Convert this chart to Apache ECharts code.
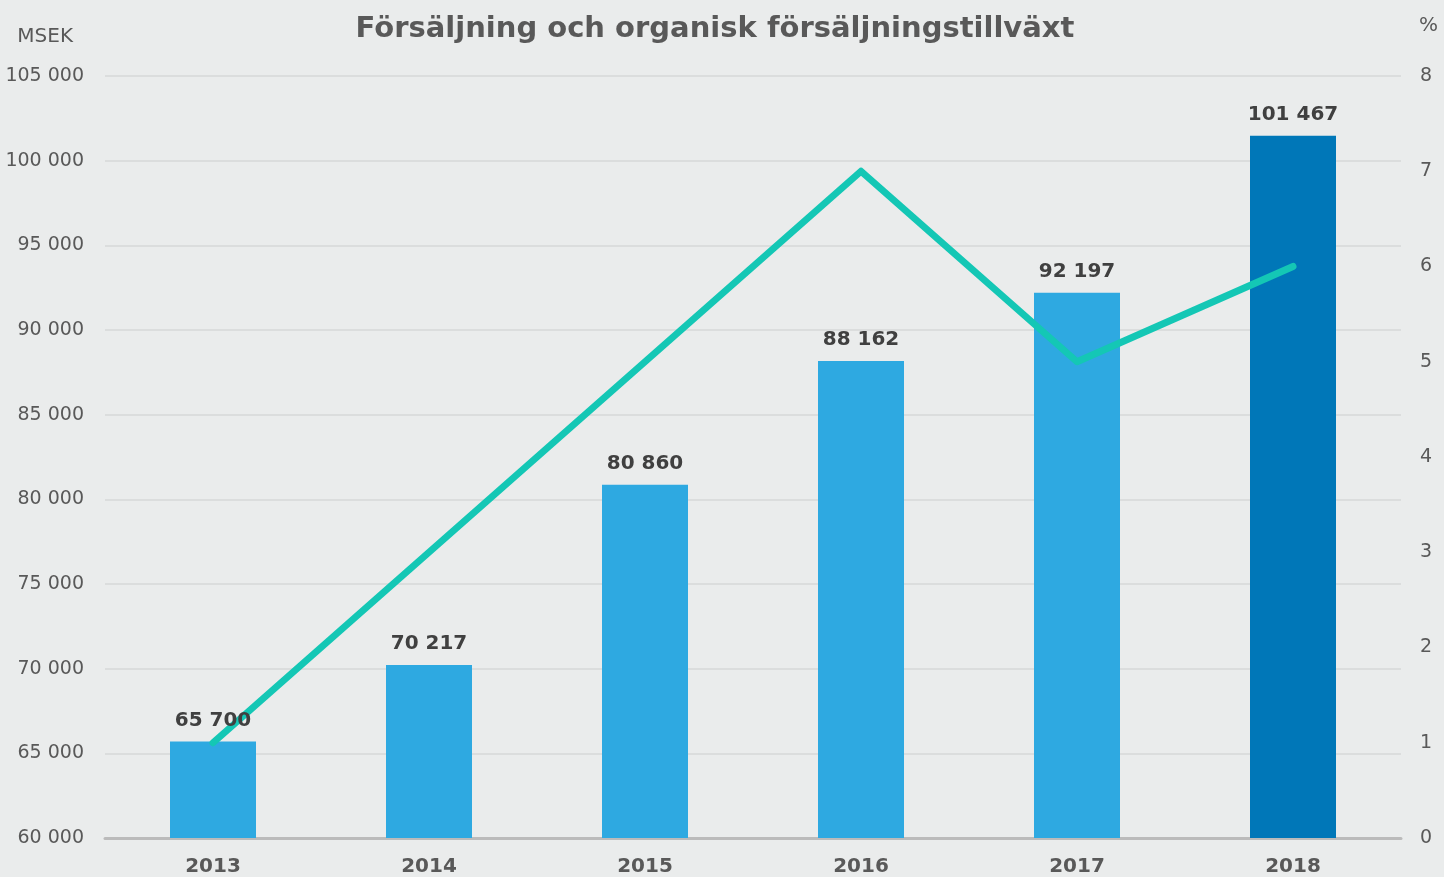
<!DOCTYPE html>
<html>
<head>
<meta charset="utf-8">
<script src="https://cdn.jsdelivr.net/npm/echarts@6/dist/echarts.min.js"></script>
<style>
  html, body { margin: 0; padding: 0; background: #eaecec; }
  #main { width: 1444px; height: 877px; }
</style>
</head>
<body>
<div id="main"></div>
<script>
(function () {
  'use strict';
  var years = ['2013', '2014', '2015', '2016', '2017', '2018'];
  var sales = [65700, 70217, 80860, 88162, 92197, 101467];
  var growth = [1, 3, 5, 7, 5, 6];

  function fmt(v) {
    return String(v).replace(/\B(?=(\d{3})+(?!\d))/g, ' ');
  }

  var myChart = echarts.init(document.getElementById('main'));
  var font = 'DejaVu Sans, Verdana, sans-serif';
  var option = {
    backgroundColor: '#eaecec',
    textStyle: { fontFamily: font },
    title: {
      text: 'Försäljning och organisk försäljningstillväxt',
      left: 710,
      textAlign: 'center',
      top: 10,
      textStyle: { fontFamily: font, fontSize: 29, fontWeight: 'bold', color: '#595959' }
    },
    grid: { left: 105, right: 43, top: 76, bottom: 39 },
    xAxis: {
      type: 'category',
      data: years,
      axisTick: { show: false },
      axisLine: { lineStyle: { color: '#bbbbbb', width: 3 } },
      axisLabel: { fontFamily: font, fontSize: 20, fontWeight: 'bold', color: '#595959', margin: 19 }
    },
    yAxis: [{
      type: 'value',
      name: 'MSEK',
      nameLocation: 'end',
      nameGap: 29,
      nameTextStyle: { fontFamily: font, fontSize: 20, color: '#595959', align: 'right', padding: [0, 32, 0, 0] },
      min: 60000,
      max: 105000,
      interval: 5000,
      axisLine: { show: false },
      axisTick: { show: false },
      splitLine: { lineStyle: { color: '#d6d9d9', width: 1.5 } },
      axisLabel: { fontFamily: font, fontSize: 19, color: '#595959', margin: 21, formatter: fmt }
    }, {
      type: 'value',
      name: '%',
      nameLocation: 'end',
      nameGap: 40,
      nameTextStyle: { fontFamily: font, fontSize: 20, color: '#595959', align: 'left', padding: [0, 0, 0, 18] },
      min: 0,
      max: 8,
      interval: 1,
      axisLine: { show: false },
      axisTick: { show: false },
      splitLine: { show: false },
      axisLabel: { fontFamily: font, fontSize: 19, color: '#595959', margin: 19 }
    }],
    series: [{
      name: 'Försäljning',
      type: 'bar',
      data: sales.map(function (v, i) {
        return i === sales.length - 1 ? { value: v, itemStyle: { color: '#0077b8' } } : v;
      }),
      barWidth: 86,
      itemStyle: { color: '#2ea9e1' },
      z: 2
    }, {
      name: 'Organisk tillväxt',
      type: 'line',
      yAxisIndex: 1,
      data: growth,
      showSymbol: false,
      symbol: 'none',
      lineStyle: { color: '#14c7b5', width: 7, cap: 'round', join: 'round' },
      z: 3
    }, {
      // value labels drawn above the line
      name: 'labels',
      type: 'bar',
      data: sales,
      barWidth: 86,
      barGap: '-100%',
      silent: true,
      itemStyle: { color: 'rgba(0,0,0,0)' },
      label: {
        show: true,
        position: 'top',
        distance: 11,
        fontFamily: font,
        fontSize: 20,
        fontWeight: 'bold',
        color: '#404040',
        formatter: function (p) { return fmt(p.value); }
      },
      z: 5
    }]
  };
  myChart.setOption(option);
  window.addEventListener('resize', function () {
    myChart.resize();
  });
})();
</script>
</body>
</html>
